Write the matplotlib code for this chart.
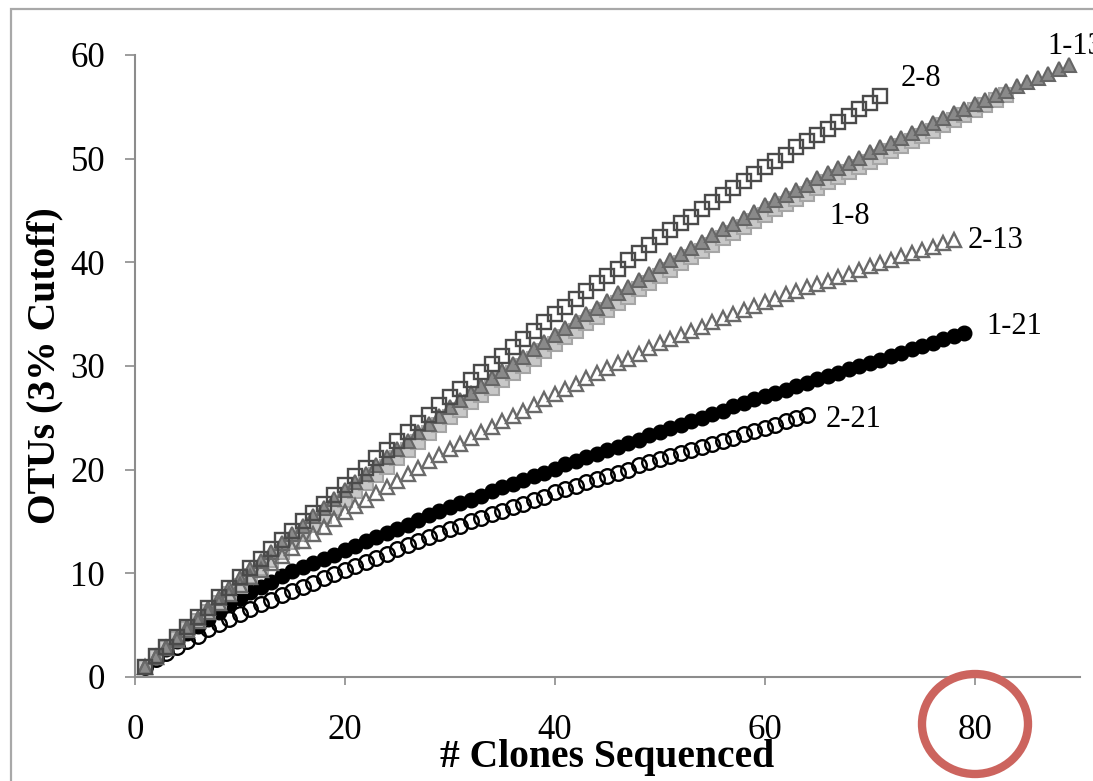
import numpy as np
import matplotlib
matplotlib.use("Agg")
import matplotlib.pyplot as plt
from matplotlib.patches import Rectangle, Ellipse

plt.rcParams['font.family'] = ['Liberation Serif', 'DejaVu Serif']

# rarefaction curves: expected OTUs after n clones (n = 1, 2, 3, ...)
otus_2_8 = [1.0, 2.0, 2.9, 3.9, 4.8, 5.8, 6.7, 7.7, 8.6, 9.6,
            10.5, 11.4, 12.3, 13.2, 14.1, 15.0, 15.8, 16.7, 17.6, 18.5,
            19.4, 20.2, 21.1, 21.9, 22.8, 23.6, 24.5, 25.3, 26.2, 27.0,
            27.8, 28.6, 29.4, 30.2, 31.0, 31.8, 32.6, 33.4, 34.2, 35.0,
            35.7, 36.5, 37.2, 38.0, 38.7, 39.4, 40.2, 40.9, 41.7, 42.4,
            43.1, 43.8, 44.4, 45.1, 45.8, 46.5, 47.2, 47.8, 48.5, 49.2,
            49.8, 50.4, 51.1, 51.7, 52.3, 52.9, 53.5, 54.1, 54.8, 55.4,
            56.0]

otus_1_13 = [1.0, 1.9, 2.9, 3.8, 4.8, 5.7, 6.7, 7.6, 8.6, 9.5,
             10.4, 11.2, 12.1, 12.9, 13.8, 14.6, 15.5, 16.3, 17.2, 18.0,
             18.8, 19.6, 20.4, 21.2, 22.0, 22.8, 23.6, 24.4, 25.2, 26.0,
             26.7, 27.4, 28.1, 28.8, 29.5, 30.2, 30.9, 31.6, 32.3, 33.0,
             33.7, 34.3, 35.0, 35.6, 36.3, 37.0, 37.6, 38.3, 38.9, 39.6,
             40.2, 40.8, 41.4, 42.0, 42.6, 43.2, 43.7, 44.3, 44.9, 45.5,
             46.0, 46.5, 47.0, 47.5, 48.1, 48.6, 49.1, 49.6, 50.1, 50.6,
             51.1, 51.5, 52.0, 52.5, 53.0, 53.4, 53.9, 54.4, 54.8, 55.3,
             55.7, 56.1, 56.5, 57.0, 57.4, 57.8, 58.2, 58.6, 59.0]

otus_1_8 = [1.0, 1.9, 2.8, 3.7, 4.6, 5.4, 6.3, 7.1, 8.0, 8.8,
            9.7, 10.5, 11.3, 12.1, 13.0, 13.8, 14.7, 15.5, 16.3, 17.1,
            17.9, 18.7, 19.5, 20.3, 21.1, 21.9, 22.7, 23.5, 24.3, 25.1,
            25.8, 26.5, 27.2, 27.9, 28.6, 29.3, 30.0, 30.7, 31.4, 32.1,
            32.8, 33.4, 34.1, 34.7, 35.4, 36.1, 36.7, 37.4, 38.0, 38.7,
            39.3, 39.9, 40.5, 41.1, 41.7, 42.3, 42.8, 43.4, 44.0, 44.6,
            45.1, 45.6, 46.1, 46.6, 47.2, 47.7, 48.2, 48.7, 49.2, 49.7,
            50.2, 50.7, 51.2, 51.7, 52.2, 52.7, 53.2, 53.7, 54.2, 54.7,
            55.2, 55.7, 56.1]

otus_2_13 = [1.0, 1.9, 2.8, 3.6, 4.5, 5.4, 6.3, 7.1, 8.0, 8.9,
             9.6, 10.3, 11.0, 11.7, 12.4, 13.1, 13.8, 14.5, 15.2, 15.9,
             16.5, 17.1, 17.7, 18.3, 18.9, 19.6, 20.2, 20.8, 21.4, 22.0,
             22.5, 23.1, 23.6, 24.1, 24.7, 25.2, 25.7, 26.2, 26.8, 27.3,
             27.8, 28.3, 28.8, 29.3, 29.8, 30.3, 30.7, 31.2, 31.7, 32.2,
             32.6, 33.0, 33.4, 33.8, 34.2, 34.6, 35.0, 35.4, 35.8, 36.2,
             36.5, 36.9, 37.2, 37.6, 37.9, 38.2, 38.6, 38.9, 39.3, 39.6,
             39.9, 40.2, 40.6, 40.9, 41.2, 41.5, 41.9, 42.2]

otus_1_21 = [1.0, 1.9, 2.7, 3.5, 4.2, 4.9, 5.6, 6.3, 7.0, 7.6,
             8.2, 8.7, 9.2, 9.7, 10.2, 10.6, 11.0, 11.4, 11.8, 12.2,
             12.6, 13.1, 13.5, 13.9, 14.3, 14.7, 15.1, 15.6, 16.0, 16.4,
             16.8, 17.1, 17.5, 17.9, 18.3, 18.6, 19.0, 19.4, 19.7, 20.1,
             20.5, 20.8, 21.2, 21.5, 21.9, 22.2, 22.6, 22.9, 23.3, 23.6,
             24.0, 24.3, 24.7, 25.0, 25.4, 25.7, 26.1, 26.4, 26.8, 27.1,
             27.4, 27.7, 28.1, 28.4, 28.7, 29.0, 29.3, 29.7, 30.0, 30.3,
             30.6, 31.0, 31.3, 31.6, 31.9, 32.2, 32.6, 32.9, 33.2]

otus_2_21 = [1.0, 1.7, 2.3, 2.9, 3.5, 4.0, 4.6, 5.1, 5.6, 6.1,
             6.6, 7.0, 7.4, 7.9, 8.3, 8.7, 9.1, 9.5, 9.9, 10.3,
             10.7, 11.1, 11.5, 11.9, 12.3, 12.7, 13.1, 13.5, 13.9, 14.3,
             14.6, 15.0, 15.3, 15.7, 16.0, 16.4, 16.7, 17.1, 17.4, 17.8,
             18.1, 18.4, 18.8, 19.1, 19.4, 19.7, 20.0, 20.4, 20.7, 21.0,
             21.3, 21.6, 21.9, 22.2, 22.5, 22.8, 23.1, 23.4, 23.7, 24.0,
             24.3, 24.7, 25.0, 25.3]

x_ticks = [0, 20, 40, 60, 80]
y_ticks = [0, 10, 20, 30, 40, 50, 60]

fig = plt.figure(figsize=(10.93, 7.81), dpi=100)
ax = fig.add_axes([0.1235, 0.1332, 0.8645, 0.7964])

def clones(y):
    return np.arange(1, len(y) + 1)

ax.plot(clones(otus_2_21), otus_2_21, ls='none', marker='o', ms=10.5,
        mfc='none', mec='black', mew=1.7, zorder=2)
ax.plot(clones(otus_1_21), otus_1_21, ls='none', marker='o', ms=10.5,
        mfc='black', mec='black', mew=1, zorder=3)
ax.plot(clones(otus_1_8), otus_1_8, ls='none', marker='s', ms=9.5,
        mfc='#c8c8c8', mec='#a6a6a6', mew=1.5, zorder=4)
ax.plot(clones(otus_1_13), otus_1_13, ls='none', marker='^', ms=10.5,
        mfc='#8a8a8a', mec='#666666', mew=1.5, zorder=5)
ax.plot(clones(otus_2_13), otus_2_13, ls='none', marker='^', ms=10.5,
        mfc='none', mec='#6a6a6a', mew=1.7, zorder=6)
ax.plot(clones(otus_2_8), otus_2_8, ls='none', marker='s', ms=9.8,
        mfc='none', mec='#4a4a4a', mew=1.7, zorder=7)

# series labels
lbl = dict(fontsize=22, va='center', ha='left', clip_on=False)
ax.text(72.9, 57.7, '2-8', **lbl)
ax.text(86.9, 60.8, '1-13', **lbl)
ax.text(66.1, 44.4, '1-8', **lbl)
ax.text(79.3, 42.1, '2-13', **lbl)
ax.text(81.1, 33.8, '1-21', **lbl)
ax.text(65.8, 24.8, '2-21', **lbl)

ax.set_xlim(0, 90)
ax.set_ylim(0, 60)
ax.set_xticks(x_ticks)
ax.set_yticks(y_ticks)
for s in ['top', 'right']:
    ax.spines[s].set_visible(False)
for s in ['left', 'bottom']:
    ax.spines[s].set_color('#8c8c8c')
    ax.spines[s].set_linewidth(1.5)
ax.tick_params(axis='y', direction='out', length=7.5, width=1.2,
               color='#8c8c8c', labelsize=25, pad=14)
ax.tick_params(axis='x', direction='out', length=6, width=1.2,
               color='#8c8c8c', labelsize=25, pad=21)

ax.set_xlabel('# Clones Sequenced', fontsize=28.5, fontweight='bold', labelpad=-6)
ax.set_ylabel('OTUs (3% Cutoff)', fontsize=28.5, fontweight='bold', labelpad=5)

# outer frame around the chart
fig.patches.append(Rectangle((11 / 1093, -0.2), 1.2, 0.2 + (781 - 9) / 781,
                             transform=fig.transFigure, fill=False,
                             ec='#a8a8a8', lw=1.6))

# red ring highlighting the 80 tick label
fig.patches.append(Ellipse((975 / 1093, 1 - 724 / 781), 106 / 1093, 100 / 781,
                           transform=fig.transFigure, fill=False,
                           ec='#cc645e', lw=6, zorder=10))

fig.savefig('out.png', dpi=100)
